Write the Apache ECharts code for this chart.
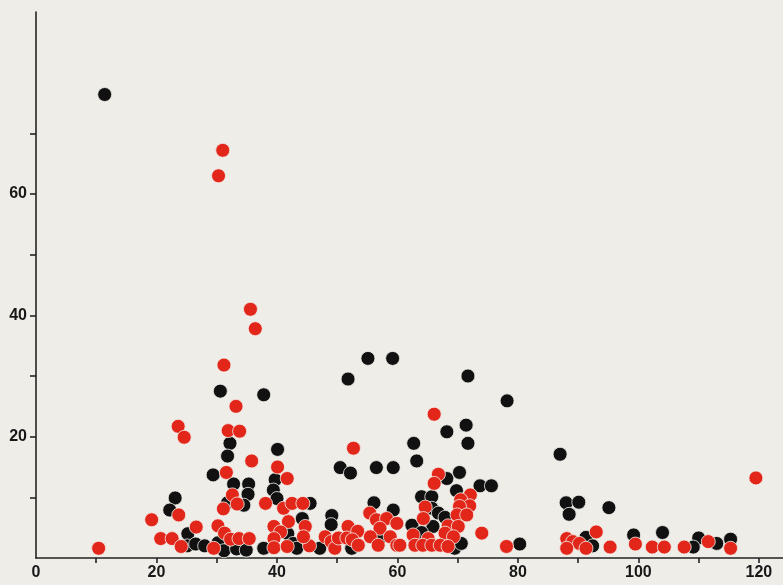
<!DOCTYPE html>
<html>
<head>
<meta charset="utf-8">
<script src="https://cdn.jsdelivr.net/npm/echarts@6/dist/echarts.min.js"></script>
<style>
html,body{margin:0;padding:0;background:#eeede7;}
#chart{width:783px;height:585px;}
</style>
</head>
<body>
<div id="chart"></div>
<script>
// x tick labels and y tick labels
var xTickLabels = [0, 20, 40, 60, 80, 100, 120];
var yTickLabels = [20, 40, 60];

// Black series [x, y]
var blackPoints = [
  [11.4, 76.4], [30.6, 27.5], [37.8, 26.9], [32.2, 18.9], [31.8, 16.8], [29.4, 13.7],
  [32.8, 12.2], [35.3, 12.2], [35.2, 10.5], [34.5, 8.7], [31.8, 9.1], [23.1, 9.9],
  [22.2, 7.9], [25.2, 4.0], [25.1, 2.0], [26.5, 2.3], [28.0, 2.0], [30.2, 2.5],
  [31.2, 1.2], [33.3, 1.5], [34.9, 1.3], [37.8, 1.6], [40.1, 17.9], [39.7, 12.9],
  [39.4, 11.2], [40.0, 9.8], [45.5, 9.0], [44.2, 6.5], [41.8, 4.0], [42.7, 2.4],
  [43.3, 1.6], [47.1, 1.6], [49.1, 7.0], [49.0, 5.5], [52.4, 1.6], [51.8, 29.5],
  [55.1, 32.9], [59.2, 32.9], [50.5, 14.9], [52.2, 14.0], [56.5, 14.9], [59.3, 14.9],
  [56.1, 9.1], [59.3, 7.9], [57.4, 3.5], [71.7, 30.0], [78.2, 25.9], [71.4, 21.9],
  [68.2, 20.8], [71.7, 18.9], [62.7, 18.9], [63.2, 16.0], [68.2, 13.1], [70.3, 14.1],
  [69.8, 11.1], [73.7, 11.9], [75.6, 11.9], [64.0, 10.1], [65.7, 10.1], [65.7, 8.2],
  [66.8, 7.4], [67.9, 6.7], [62.4, 5.4], [65.9, 5.2], [64.0, 4.2], [69.5, 1.6],
  [70.6, 2.4], [80.3, 2.3], [87.0, 17.1], [88.0, 9.1], [90.1, 9.2], [88.5, 7.2],
  [95.1, 8.3], [91.3, 3.4], [92.4, 2.0], [99.2, 3.8], [104.0, 4.2], [110.0, 3.3],
  [109.1, 1.8], [113.0, 2.4], [115.3, 3.1]
];

// Red series [x, y]
var redPoints = [
  [10.4, 1.6], [31.0, 67.2], [30.3, 63.0], [35.6, 41.0], [36.4, 37.8], [31.2, 31.8],
  [33.2, 25.0], [23.6, 21.7], [24.6, 19.9], [31.9, 21.0], [33.8, 20.9], [35.8, 16.0],
  [31.6, 14.1], [32.6, 10.4], [33.4, 8.9], [31.1, 8.1], [38.1, 9.0], [19.2, 6.3],
  [23.7, 7.1], [26.6, 5.1], [30.2, 5.3], [31.3, 4.1], [20.7, 3.2], [22.6, 3.2],
  [24.1, 1.9], [29.5, 1.6], [32.3, 3.1], [33.7, 3.2], [35.4, 3.2], [40.1, 15.0],
  [41.7, 13.1], [41.1, 8.2], [42.5, 9.0], [44.3, 9.0], [41.9, 6.0], [44.7, 5.2],
  [39.5, 5.2], [40.6, 4.3], [39.5, 3.2], [39.5, 1.7], [41.7, 1.9], [45.4, 2.0],
  [44.4, 3.5], [48.0, 3.5], [49.0, 2.7], [49.6, 1.6], [50.2, 3.3], [51.8, 5.2],
  [51.6, 3.3], [53.4, 4.4], [52.5, 3.0], [53.5, 2.1], [52.7, 18.1], [55.4, 7.4],
  [56.5, 6.3], [58.2, 6.5], [59.9, 5.7], [57.1, 4.9], [55.5, 3.5], [56.8, 2.1],
  [58.8, 3.5], [59.9, 2.1], [66.1, 23.7], [66.8, 13.8], [66.1, 12.3], [72.1, 10.4],
  [70.5, 9.6], [72.0, 8.6], [70.3, 8.5], [69.9, 7.1], [71.5, 7.1], [64.6, 8.4],
  [64.3, 6.5], [68.4, 5.3], [70.1, 5.2], [62.6, 3.8], [67.9, 4.1], [69.3, 3.5],
  [65.1, 3.2], [74.0, 4.1], [60.4, 2.1], [62.9, 2.1], [64.2, 2.1], [65.7, 2.1],
  [67.1, 2.1], [68.4, 1.9], [78.1, 1.9], [93.0, 4.3], [88.1, 3.2], [89.1, 2.7],
  [90.2, 2.4], [88.1, 1.6], [91.3, 1.6], [95.3, 1.8], [99.5, 2.3], [102.3, 1.8],
  [104.3, 1.8], [107.6, 1.8], [111.6, 2.7], [115.3, 1.6], [119.5, 13.2]
];

var chart = echarts.init(document.getElementById('chart'), null, {renderer: 'canvas'});
var labelFont = {
  color: '#181818', fontFamily: 'Liberation Sans, Arial, sans-serif',
  fontSize: 16, fontWeight: 'bold'
};
var axisLineStyle = {color: '#222222', width: 1.6};
chart.setOption({
  backgroundColor: '#eeede7',
  animation: false,
  grid: {left: 36, right: 0, top: 12, bottom: 27, containLabel: false},
  xAxis: {
    type: 'value', min: 0, max: 124, interval: 10,
    axisLine: {show: true, onZero: false, lineStyle: axisLineStyle},
    axisTick: {show: true, inside: false, length: 5, lineStyle: axisLineStyle,
               customValues: [10, 20, 30, 40, 50, 60, 70, 80, 90, 100, 110, 120]},
    axisLabel: Object.assign({margin: 7, customValues: xTickLabels}, labelFont),
    splitLine: {show: false}
  },
  yAxis: {
    type: 'value', min: 0, max: 90, interval: 10,
    axisLine: {show: true, onZero: false, lineStyle: axisLineStyle},
    axisTick: {show: true, length: 6, lineStyle: axisLineStyle,
               customValues: [10, 20, 30, 40, 50, 60, 70]},
    axisLabel: Object.assign({margin: 9, customValues: yTickLabels}, labelFont),
    splitLine: {show: false}
  },
  series: [
    {
      name: 'black', type: 'scatter', data: blackPoints, symbolSize: 14,
      itemStyle: {color: '#111111', borderColor: '#f2f1ec', borderWidth: 0.8, opacity: 1}
    },
    {
      name: 'red', type: 'scatter', data: redPoints, symbolSize: 14,
      itemStyle: {color: '#e2261a', borderColor: '#f2f1ec', borderWidth: 0.8, opacity: 1}
    }
  ]
});
</script>
</body>
</html>
